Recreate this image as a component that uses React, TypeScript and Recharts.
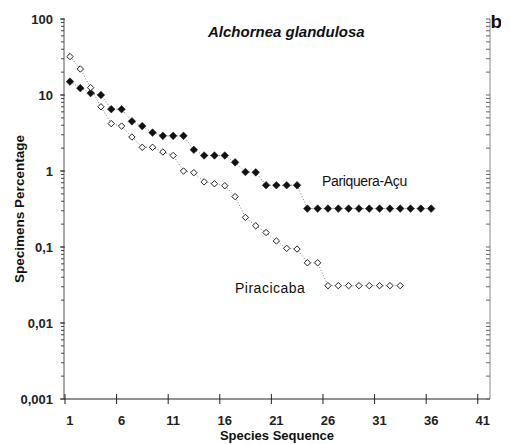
import React from "react";
import { LineChart, Line, XAxis, YAxis } from "recharts";

const speciesSeq: number[] = Array.from({ length: 36 }, (_, i) => i + 1);
const pariqueraAcu: number[] = [
  15, 12.3, 10.6, 10, 6.5, 6.5, 4.5, 3.9, 3.2, 2.9, 2.9, 2.9, 1.9, 1.6, 1.6, 1.6,
  1.3, 0.97, 0.96, 0.65, 0.65, 0.65, 0.65, 0.32, 0.32, 0.32, 0.32, 0.32, 0.32,
  0.32, 0.32, 0.32, 0.32, 0.32, 0.32, 0.32,
];
const piracicaba: number[] = [
  32, 22, 12.5, 7, 4.2, 3.9, 2.8, 2.05, 2.05, 1.78, 1.6, 1.0, 0.95, 0.72, 0.68,
  0.64, 0.46, 0.245, 0.19, 0.155, 0.12, 0.096, 0.094, 0.062, 0.062, 0.031, 0.031,
  0.031, 0.031, 0.031, 0.031, 0.031, 0.031,
];
const xTicks: number[] = [1, 6, 11, 16, 21, 26, 31, 36, 41];
const yMajorTicks: number[] = [0.001, 0.01, 0.1, 1, 10, 100];
const yMinorMultipliers: number[] = [2, 3, 4, 5, 6, 7, 8, 9];

const yAllTicks: number[] = [...yMajorTicks];
yMajorTicks.slice(0, -1).forEach((d) =>
  yMinorMultipliers.forEach((m) => yAllTicks.push(Number((m * d).toPrecision(3))))
);
yAllTicks.sort((a, b) => a - b);

const data = speciesSeq.map((x, i) => ({
  x,
  p: pariqueraAcu[i],
  q: i < piracicaba.length ? piracicaba[i] : undefined,
}));

const FONT = '"Liberation Sans", Arial, Helvetica, sans-serif';

const isMajor = (v: number) =>
  Math.abs(Math.log10(v) - Math.round(Math.log10(v))) < 1e-6;
const fmtY = (v: number) => (v >= 1 ? String(v) : String(v).replace(".", ","));

const XTick = (props: any) => {
  const { x, y, payload } = props;
  const px = Number(x);
  const py = Number(y);
  return (
    <g>
      <path d={`M${px - 5},${py - 5}L${px - 5},${py + 5}`} stroke="#222" strokeWidth={1} fill="none" />
      <text x={px} y={py + 26} textAnchor="middle" fontFamily={FONT} fontWeight="bold" fontSize={13} fill="#222">
        {payload.value}
      </text>
    </g>
  );
};

const YLeftTick = (props: any) => {
  const { x, y, payload } = props;
  const v = payload.value as number;
  const px = Number(x);
  const py = Number(y);
  const major = isMajor(v);
  return (
    <g>
      {major && <path d={`M${px - 1},${py}L${px + 4},${py}`} stroke="#333" strokeWidth={1} fill="none" />}
      {major && (
        <text x={px - 8} y={py + 4.5} textAnchor="end" fontFamily={FONT} fontWeight="bold" fontSize={13} fill="#222">
          {fmtY(v)}
        </text>
      )}
    </g>
  );
};

const EmptyTick = () => <g />;

const FilledDiamond = (props: any) => {
  const { cx, cy, index } = props;
  if (cx == null || cy == null || isNaN(cy)) return <g key={`fd-${index}`} />;
  const r = 3.8;
  return (
    <path
      key={`fd-${index}`}
      d={`M${cx},${cy - r}L${cx + r},${cy}L${cx},${cy + r}L${cx - r},${cy}Z`}
      fill="#111"
      stroke="#111"
      strokeWidth={0.5}
    />
  );
};

const OpenDiamond = (props: any) => {
  const { cx, cy, index } = props;
  if (cx == null || cy == null || isNaN(cy)) return <g key={`od-${index}`} />;
  const r = 3.2;
  return (
    <path
      key={`od-${index}`}
      d={`M${cx},${cy - r}L${cx + r},${cy}L${cx},${cy + r}L${cx - r},${cy}Z`}
      fill="#fff"
      stroke="#222"
      strokeWidth={1}
    />
  );
};

const abs = (extra: React.CSSProperties): React.CSSProperties => ({
  position: "absolute",
  whiteSpace: "nowrap",
  fontFamily: FONT,
  color: "#111",
  ...extra,
});

export default function App() {
  return (
    <div style={{ position: "relative", width: 501, height: 436, overflow: "hidden" }}>
      <LineChart
        width={501}
        height={436}
        data={data}
        margin={{ top: 11, right: 19, bottom: 0, left: 0 }}
      >
        <XAxis
          xAxisId="top"
          orientation="top"
          dataKey="x"
          type="number"
          domain={[0.42, 41.7]}
          allowDataOverflow
          height={0}
          tick={false}
          tickLine={false}
          axisLine={{ stroke: "#888" }}
        />
        <XAxis
          dataKey="x"
          type="number"
          domain={[0.42, 41.7]}
          allowDataOverflow
          ticks={xTicks}
          interval={0}
          height={45}
          tickSize={0}
          tickMargin={0}
          stroke="#222"
          tickLine={false}
          tick={<XTick />}
          axisLine={{ stroke: "#222" }}
        />
        <YAxis
          scale="log"
          domain={[0.001, 100]}
          allowDataOverflow
          ticks={yAllTicks}
          interval={0}
          width={56}
          tickSize={3}
          tickMargin={0}
          stroke="#444"
          tickLine={{ stroke: "#444", strokeWidth: 1 }}
          tick={<YLeftTick />}
          axisLine={{ stroke: "#555" }}
        />
        <YAxis
          yAxisId="right"
          orientation="right"
          mirror
          scale="log"
          domain={[0.001, 100]}
          allowDataOverflow
          ticks={yAllTicks}
          interval={0}
          width={19}
          tickSize={4}
          tickMargin={0}
          stroke="#666"
          tickLine={{ stroke: "#666", strokeWidth: 1 }}
          tick={<EmptyTick />}
          axisLine={{ stroke: "#888" }}
        />
        <Line
          dataKey="p"
          type="linear"
          stroke="#777"
          strokeWidth={1}
          strokeDasharray="1 2"
          dot={FilledDiamond}
          activeDot={false}
          isAnimationActive={false}
        />
        <Line
          dataKey="q"
          type="linear"
          stroke="#777"
          strokeWidth={1}
          strokeDasharray="1 2"
          dot={OpenDiamond}
          activeDot={false}
          isAnimationActive={false}
        />
      </LineChart>
      <div style={abs({ left: 200, top: 16, fontSize: 15, lineHeight: "15px", fontWeight: "bold", fontStyle: "italic" })}>
        Alchornea glandulosa
      </div>
      <div style={abs({ left: 482.5, top: 4, fontSize: 19, lineHeight: "19px", fontWeight: "bold" })}>b</div>
      <div style={abs({ left: 314, top: 166, fontSize: 14, lineHeight: "14px", letterSpacing: "-0.35px" })}>Pariquera-Açu</div>
      <div style={abs({ left: 227, top: 273, fontSize: 14, lineHeight: "14px", letterSpacing: "0.5px" })}>Piracicaba</div>
      <div
        style={abs({
          left: 12 - 100,
          top: 201 - 7,
          width: 200,
          textAlign: "center",
          fontSize: 13.5,
          lineHeight: "14px",
          fontWeight: "bold",
          transform: "rotate(-90deg)",
          transformOrigin: "50% 50%",
        })}
      >
        Specimens Percentage
      </div>
      <div
        style={abs({
          left: 269 - 100,
          top: 421,
          width: 200,
          textAlign: "center",
          fontSize: 13,
          lineHeight: "14px",
          fontWeight: "bold",
        })}
      >
        Species Sequence
      </div>
    </div>
  );
}
